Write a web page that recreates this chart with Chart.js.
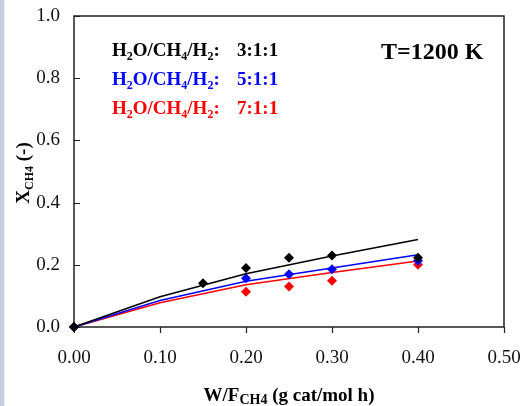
<!DOCTYPE html>
<html>
<head>
<meta charset="utf-8">
<script src="https://cdn.jsdelivr.net/npm/chart.js@4.4.1/dist/chart.umd.min.js"></script>
<style>
  html, body { margin: 0; padding: 0; background: #fff; }
  body { width: 529px; height: 406px; overflow: hidden;
         background: linear-gradient(to right, #c3cbe0 0px, #c9d1e3 4px, #ffffff 5px); }
  #wrap { position: absolute; left: 0; top: 0; width: 529px; height: 406px; }
</style>
</head>
<body>
<div id="wrap"><canvas id="chart" width="529" height="406"></canvas></div>
<script>
// model curves (lines)
const modelX = [0, 0.1, 0.2, 0.3, 0.4];
const model311 = [0, 0.097, 0.171, 0.228, 0.281];
const model511 = [0, 0.085, 0.147, 0.190, 0.232];
const model711 = [0, 0.078, 0.136, 0.175, 0.212];

// experimental points (diamonds)
const exp311X = [0, 0.15, 0.20, 0.25, 0.30, 0.40];
const exp311Y = [0, 0.141, 0.190, 0.223, 0.230, 0.223];
const exp511X = [0, 0.20, 0.25, 0.30, 0.40];
const exp511Y = [0, 0.157, 0.170, 0.186, 0.213];
const exp711X = [0, 0.20, 0.25, 0.30, 0.40];
const exp711Y = [0, 0.113, 0.130, 0.149, 0.200];

const xTicks = [0, 0.1, 0.2, 0.3, 0.4, 0.5];
const yTicks = [0, 0.2, 0.4, 0.6, 0.8, 1.0];

const legendRows = [
  { ratio: "3:1:1", color: "#000000" },
  { ratio: "5:1:1", color: "#0000ff" },
  { ratio: "7:1:1", color: "#ff0000" }
];

function pts(xs, ys) {
  return xs.map(function (x, i) { return { x: x, y: ys[i] }; });
}

function lineSet(xs, ys, color) {
  return { data: pts(xs, ys), showLine: true, borderColor: color, borderWidth: 1.5,
           pointRadius: 0, fill: false, tension: 0, clip: false };
}
function pointSet(xs, ys, color) {
  return { data: pts(xs, ys), showLine: false, pointStyle: "rectRot", pointRadius: 5,
           backgroundColor: color, borderColor: color, borderWidth: 0, clip: false };
}

const serif = "'Liberation Serif', 'Times New Roman', serif";

// draws text pieces [text, size, dy] one after another
function drawRuns(ctx, runs, x, y, color) {
  ctx.fillStyle = color;
  ctx.textBaseline = "alphabetic";
  ctx.textAlign = "left";
  let cx = x;
  runs.forEach(function (r) {
    ctx.font = "bold " + r[1] + "px " + serif;
    ctx.fillText(r[0], cx, y + r[2]);
    cx += ctx.measureText(r[0]).width;
  });
  return cx - x;
}
function runsWidth(ctx, runs) {
  let w = 0;
  runs.forEach(function (r) {
    ctx.font = "bold " + r[1] + "px " + serif;
    w += ctx.measureText(r[0]).width;
  });
  return w;
}

const decor = {
  id: "decor",
  beforeDatasetsDraw: function (chart) {
    const ctx = chart.ctx;
    const a = chart.chartArea;
    const xs = chart.scales.x, ys = chart.scales.y;
    ctx.save();
    // frame
    ctx.strokeStyle = "#222";
    ctx.lineWidth = 1.5;
    ctx.strokeRect(a.left, a.top, a.right - a.left, a.bottom - a.top);
    // ticks: x outward, y inward
    ctx.lineWidth = 1.2;
    ctx.beginPath();
    xTicks.forEach(function (v) {
      const px = Math.round(xs.getPixelForValue(v)) + 0.5;
      ctx.moveTo(px, a.bottom); ctx.lineTo(px, a.bottom + 6);
    });
    yTicks.forEach(function (v) {
      const py = Math.round(ys.getPixelForValue(v)) + 0.5;
      ctx.moveTo(a.left, py); ctx.lineTo(a.left + 6, py);
    });
    ctx.stroke();
    ctx.restore();
  },
  afterDraw: function (chart) {
    const ctx = chart.ctx;
    const a = chart.chartArea;
    ctx.save();
    // legend text
    legendRows.forEach(function (row, i) {
      const base = 56 + i * 29;
      drawRuns(ctx, [["H", 19, 0], ["2", 12, 4], ["O/CH", 19, 0], ["4", 12, 4],
                     ["/H", 19, 0], ["2", 12, 4], [":", 19, 0]], 112, base, row.color);
      drawRuns(ctx, [[row.ratio, 19, 0]], 237, base, row.color);
    });
    // temperature
    drawRuns(ctx, [["T=1200 K", 24, 0]], 381, 59, "#000");

    // x axis title
    const xt = [["W/F", 19, 0], ["CH4", 14, 3], [" (g cat/mol h)", 19, 0]];
    const xw = runsWidth(ctx, xt);
    drawRuns(ctx, xt, (a.left + a.right) / 2 - xw / 2, 401, "#000");

    // y axis title (rotated)
    const yt = [["X", 19, 0], ["CH4", 12, 4], [" (-)", 19, 0]];
    const yw = runsWidth(ctx, yt);
    ctx.translate(29, 173);
    ctx.rotate(-Math.PI / 2);
    drawRuns(ctx, yt, -yw / 2, 0, "#000");
    ctx.restore();
  }
};

new Chart(document.getElementById("chart"), {
  type: "scatter",
  data: {
    datasets: [
      lineSet(modelX, model311, "#000000"),
      pointSet(exp311X, exp311Y, "#000000"),
      lineSet(modelX, model511, "#0000ff"),
      pointSet(exp511X, exp511Y, "#0000ff"),
      lineSet(modelX, model711, "#ff0000"),
      pointSet(exp711X, exp711Y, "#ff0000")
    ]
  },
  options: {
    responsive: false,
    animation: false,
    events: [],
    layout: { padding: { left: 0, right: 25, top: 16, bottom: 0 } },
    plugins: { legend: { display: false }, tooltip: { enabled: false } },
    scales: {
      x: {
        type: "linear", min: 0, max: 0.5,
        afterFit: function (s) { s.height = 79; s.paddingLeft = 0; s.paddingRight = 0; },
        afterBuildTicks: function (s) { s.ticks = xTicks.map(function (v) { return { value: v }; }); },
        grid: { display: false, drawTicks: false },
        border: { display: false },
        ticks: { padding: 20, color: "#111", font: { family: serif, size: 19 },
                 maxRotation: 0, callback: function (v) { return Number(v).toFixed(2); } }
      },
      y: {
        type: "linear", min: 0, max: 1,
        afterFit: function (s) { s.width = 74; s.paddingTop = 0; s.paddingBottom = 0; },
        afterBuildTicks: function (s) { s.ticks = yTicks.map(function (v) { return { value: v }; }); },
        grid: { display: false, drawTicks: false },
        border: { display: false },
        ticks: { padding: 14, color: "#111", font: { family: serif, size: 19 },
                 callback: function (v) { return Number(v).toFixed(1); } }
      }
    }
  },
  plugins: [decor]
});
</script>
</body>
</html>
